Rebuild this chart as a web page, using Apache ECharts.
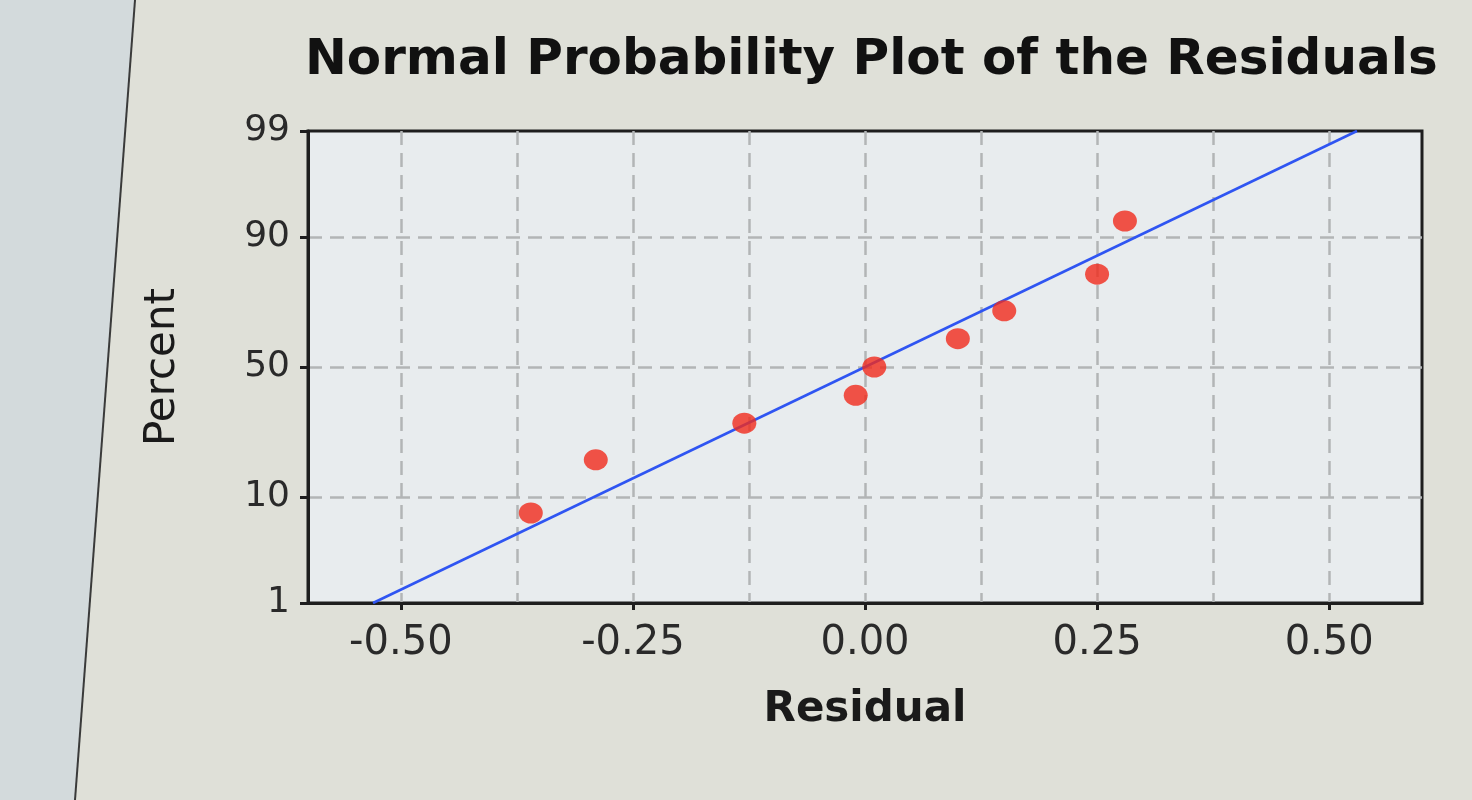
<!DOCTYPE html>
<html>
<head>
<meta charset="utf-8">
<script src="https://cdn.jsdelivr.net/npm/echarts@6/dist/echarts.min.js"></script>
<style>
  html,body{margin:0;padding:0;background:#dfe0d8;}
  #main{width:1472px;height:800px;}
</style>
</head>
<body>
<div id="main"></div>
<script>
// residuals vs percent (median ranks)
const residuals=[-0.36,-0.29,-0.13,-0.01,0.01,0.10,0.15,0.25,0.28];
const percents=[7.5,18,29,39,50,61,71,82,92.5];
// fitted normal line endpoints
const fitResidual=[-0.53,0.53];
const fitPercent=[1,99];
// axis ticks
const xTickValues=[-0.5,-0.25,0,0.25,0.5];
const xGridValues=[-0.5,-0.375,-0.25,-0.125,0,0.125,0.25,0.375,0.5];
const yTickPercents=[1,10,50,90,99];

// inverse normal cdf, used as the probability scale of the y axis
function probit(p){
  const a=[-3.969683028665376e+01,2.209460984245205e+02,-2.759285104469687e+02,1.383577518672690e+02,-3.066479806614716e+01,2.506628277459239e+00];
  const b=[-5.447609879822406e+01,1.615858368580409e+02,-1.556989798598866e+02,6.680131188771972e+01,-1.328068155288572e+01];
  const c=[-7.784894002430293e-03,-3.223964580411365e-01,-2.400758277161838e+00,-2.549732539343734e+00,4.374664141464968e+00,2.938163982698783e+00];
  const d=[7.784695709041462e-03,3.224671290700398e-01,2.445134137142996e+00,3.754408661907416e+00];
  const plow=0.02425;
  let q,r;
  if(p<plow){
    q=Math.sqrt(-2*Math.log(p));
    return (((((c[0]*q+c[1])*q+c[2])*q+c[3])*q+c[4])*q+c[5])/((((d[0]*q+d[1])*q+d[2])*q+d[3])*q+1);
  }
  if(p<=1-plow){
    q=p-0.5;r=q*q;
    return (((((a[0]*r+a[1])*r+a[2])*r+a[3])*r+a[4])*r+a[5])*q/(((((b[0]*r+b[1])*r+b[2])*r+b[3])*r+b[4])*r+1);
  }
  q=Math.sqrt(-2*Math.log(1-p));
  return -(((((c[0]*q+c[1])*q+c[2])*q+c[3])*q+c[4])*q+c[5])/((((d[0]*q+d[1])*q+d[2])*q+d[3])*q+1);
}
const z=pct=>probit(pct/100);
const yTickZ=yTickPercents.map(z);
function pctLabel(v){
  let best=0;
  yTickZ.forEach((t,i)=>{ if(Math.abs(t-v)<Math.abs(yTickZ[best]-v)) best=i; });
  return String(yTickPercents[best]);
}

const FONT='DejaVu Sans';
const ink='#1e1e1e';
const gridLine={color:'#b2b5b6',width:2.5,type:[14,8]};

const chart=echarts.init(document.getElementById('main'));
chart.setOption({
  backgroundColor:'#dfe0d8',
  animation:false,
  title:{
    text:'Normal Probability Plot of the Residuals',
    left:300,top:31,
    textStyle:{fontFamily:FONT,fontSize:50,fontWeight:'bold',color:'#111'}
  },
  graphic:[
    {type:'polygon',silent:true,z:-1,shape:{points:[[0,0],[135,0],[75,800],[0,800]]},style:{fill:'#d3dadc'}},
    {type:'line',silent:true,shape:{x1:135,y1:0,x2:75,y2:800},style:{stroke:'#3a3a3a',lineWidth:2}}
  ],
  grid:{left:308,right:50,top:131,bottom:197,show:true,backgroundColor:'#e8ecee',borderColor:ink,borderWidth:3},
  xAxis:[{
    type:'value',min:-0.6,max:0.6,
    name:'Residual',nameLocation:'middle',nameGap:86,
    nameTextStyle:{fontFamily:FONT,fontSize:42,fontWeight:'bold',color:'#1a1a1a'},
    axisLine:{show:true,onZero:false,lineStyle:{color:ink,width:3}},
    axisTick:{show:true,customValues:xTickValues,length:7,lineStyle:{color:ink,width:3}},
    axisLabel:{customValues:xTickValues,formatter:v=>v.toFixed(2),margin:21,fontFamily:FONT,fontSize:40,color:'#2a2a2a'},
    splitLine:{show:false}
  },{
    type:'value',min:-0.6,max:0.6,position:'top',
    axisLine:{show:false},axisLabel:{show:false},
    axisTick:{show:false,customValues:xGridValues},
    splitLine:{show:true,lineStyle:gridLine}
  }],
  yAxis:{
    type:'value',min:z(1),max:z(99),
    name:'Percent',nameLocation:'middle',nameRotate:90,nameGap:124,
    nameTextStyle:{fontFamily:FONT,fontSize:42,color:'#1a1a1a'},
    axisLine:{show:true,onZero:false,lineStyle:{color:ink,width:3}},
    axisTick:{show:true,customValues:yTickZ,length:8,lineStyle:{color:ink,width:3}},
    axisLabel:{customValues:yTickZ,formatter:pctLabel,margin:18,fontFamily:FONT,fontSize:36,color:'#2a2a2a'},
    splitLine:{show:true,showMinLine:false,showMaxLine:false,lineStyle:gridLine}
  },
  series:[{
    type:'line',
    z:3,
    data:fitResidual.map((x,i)=>[x,z(fitPercent[i])]),
    symbol:'none',
    lineStyle:{color:'#2f55f2',width:2.5},
    silent:true
  },{
    type:'scatter',
    z:4,
    data:residuals.map((x,i)=>[x,z(percents[i])]),
    symbol:'circle',
    symbolSize:[24,21],
    itemStyle:{color:'#f02a1c'}
  }]
});
</script>
</body>
</html>
